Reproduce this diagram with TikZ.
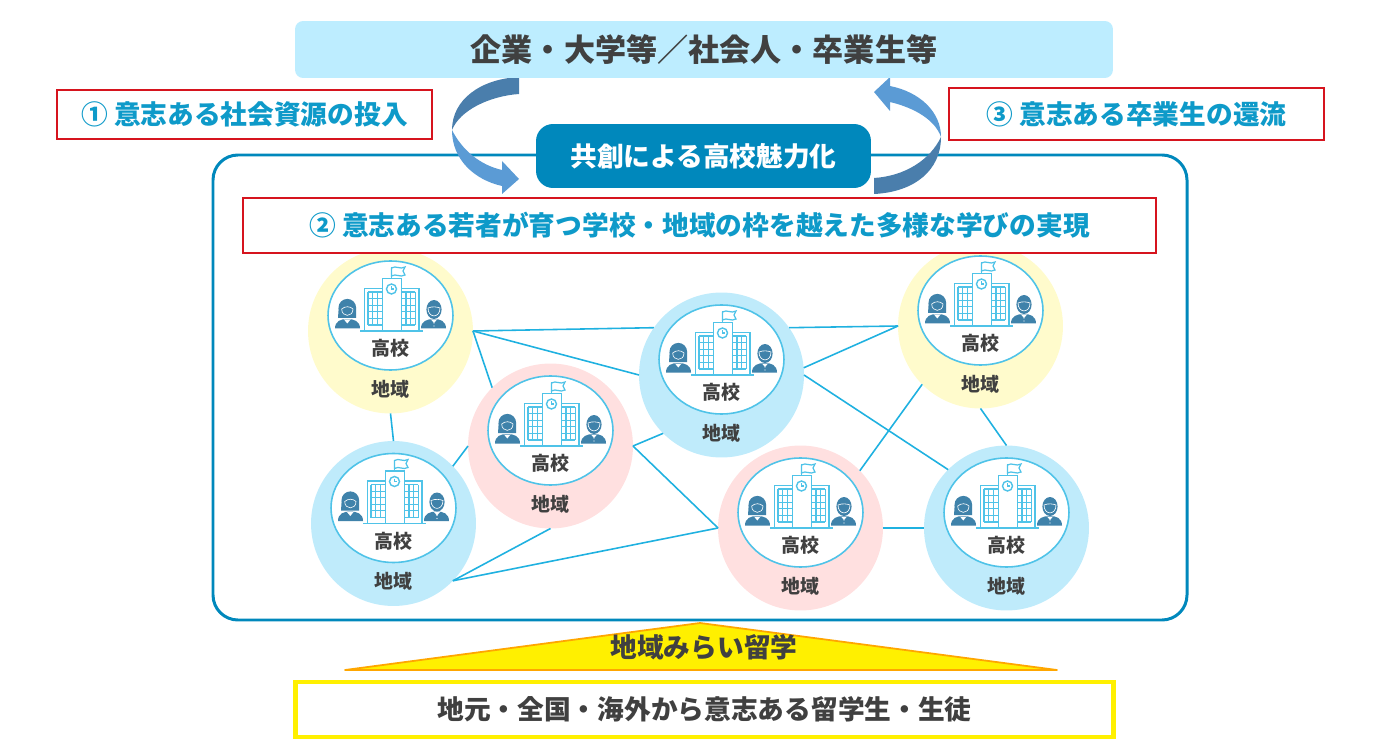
\documentclass[tikz,border=0pt]{standalone}
\usepackage{fontspec}
\setmainfont{Noto Sans CJK JP}
\usetikzlibrary{shapes.geometric}
\definecolor{mytext}{RGB}{64,64,64}
\definecolor{myteal}{RGB}{0,136,188}
\definecolor{mycyan}{RGB}{14,154,201}
\definecolor{myred}{RGB}{214,20,30}
\definecolor{mysky}{RGB}{189,237,255}
\definecolor{myline}{RGB}{31,177,224}
\definecolor{myicon}{RGB}{79,195,232}
\definecolor{myperson}{RGB}{63,130,170}
\definecolor{mydark}{RGB}{74,126,172}
\definecolor{mylight}{RGB}{91,155,213}
\definecolor{myyellow}{RGB}{255,251,204}
\definecolor{myblue}{RGB}{191,235,251}
\definecolor{mypink}{RGB}{255,224,224}
\definecolor{mygold}{RGB}{255,240,0}
\tikzset{
  redbox/.style={draw=myred,line width=1.1pt,fill=white,inner sep=0,outer sep=0,text=mycyan,font=\fontsize{15.2}{18}\selectfont\bfseries},
  arealabel/.style={text=mytext,font=\fontsize{10.8}{13}\selectfont\bfseries,inner sep=0},
  linkline/.style={draw=myline,line width=0.9pt},
  schoolicon/.pic={
    \draw[myicon,line width=0.8pt,fill=white] (-26.3,16) rectangle (-8.7,-26.7);
    \draw[myicon,line width=0.8pt,fill=white] (10.3,16) rectangle (28,-26.7);
    \draw[myicon,line width=0.8pt,fill=white] (-8.7,16) rectangle (10.3,-36.7);
    \foreach \wx in {-23,10.3}{
      \foreach \k in {0,1,2,3}{
        \draw[myicon,line width=0.6pt] (\wx+\k*4.7,-23) -- (\wx+\k*4.7,10);
      }
      \foreach \k in {0,...,5}{
        \draw[myicon,line width=0.6pt] (\wx,-23+\k*6.6) -- (\wx+14.1,-23+\k*6.6);
      }
    }
    \draw[myicon,line width=0.8pt] (0.5,-26) circle (5);
    \draw[myicon,line width=0.6pt] (0.5,-29) -- (0.5,-26) -- (3,-26);
    \draw[myicon,line width=0.9pt] (-31,16) -- (32,16);
    \draw[myicon,line width=0.8pt] (0.5,-36.7) -- (0.5,-48);
    \draw[myicon,line width=0.7pt,fill=white] (0.5,-47) .. controls (5,-50) and (9,-45) .. (14,-48) -- (12,-44) -- (14,-40) .. controls (9,-37) and (5,-42) .. (0.5,-39) -- cycle;
    % left figure
    \fill[myperson] (-56,13.5) .. controls (-56,6) and (-50,4) .. (-44,4) .. controls (-37,4) and (-31,6) .. (-31,13.5) -- cycle;
    \fill[myperson] (-43.7,-7.3) circle (8.8);
    \fill[myperson] (-52.3,-7) -- (-53,3) -- (-35,3) -- (-35,-7) -- cycle;
    \draw[white,line width=0.35pt] (-49.3,-6) .. controls (-49.3,2.5) and (-38,2.5) .. (-38,-6) .. controls (-41,-9) and (-46,-9) .. (-49.3,-6) -- cycle;
    \fill[white] (-47,4.5) -- (-43.7,8.5) -- (-40.5,4.5) -- cycle;
    % right figure
    \fill[myperson] (30,13.5) .. controls (30,6) and (36,4) .. (43,4) .. controls (49,4) and (55,6) .. (55,13.5) -- cycle;
    \fill[myperson] (43,-5.5) ellipse (7.6 and 9.5);
    \draw[white,line width=0.35pt] (37,-7) .. controls (37,3.5) and (49,3.5) .. (49,-7) .. controls (46,-8) and (42,-9) .. (37,-7) -- cycle;
    \fill[white] (40,4.5) -- (43,8) -- (46,4.5) -- cycle;
    \foreach \by in {8,11}{
      \fill[white] (43,\by) circle (0.6);
    }
  },
}
\begin{document}
\begin{tikzpicture}[x=0.02cm,y=-0.02cm]
\useasboundingbox (0,0) rectangle (1390,753);

\draw[myteal,line width=1.7pt,rounded corners=0.5cm] (213,155) rectangle (1187,620);

% curved arrows
\fill[mydark] (519,77) .. controls (480,79) and (452,100) .. (452,130) .. controls (460,110) and (490,96) .. (519,94) -- cycle;
\fill[mylight] (452,130) .. controls (452,160) and (475,180) .. (502,186) -- (502,194) -- (519,179) -- (502,161) -- (502,170) .. controls (480,165) and (462,150) .. (452,130) -- cycle;
\fill[mydark] (874,194) .. controls (915,192) and (941,170) .. (941,137) .. controls (930,160) and (905,176) .. (874,178) -- cycle;
\fill[mylight] (890,86) .. controls (920,92) and (941,112) .. (941,137) .. controls (935,120) and (915,108) .. (890,102) -- (890,111) -- (874,92) -- (890,77) -- cycle;

\node[fill=mysky,rounded corners=0.16cm,minimum width=16.36cm,minimum height=1.14cm,inner sep=0,text=mytext,font=\fontsize{17.7}{20}\selectfont\bfseries] (partners) at (704,49.5) {企業・大学等／社会人・卒業生等};
\node[fill=myteal,rounded corners=0.34cm,minimum width=6.7cm,minimum height=1.28cm,inner sep=0,text=white,font=\fontsize{15.2}{18}\selectfont\bfseries] (cocreate) at (703.5,156) {共創による高校魅力化};
\node[redbox,minimum width=7.5cm,minimum height=0.98cm] (input) at (244.5,114.5) {① 意志ある社会資源の投入};
\node[redbox,minimum width=7.5cm,minimum height=1.04cm] (return) at (1136.5,114) {③ 意志ある卒業生の還流};

\foreach \nm/\cx/\cy/\col in {a/390.5/331/myyellow,b/393.5/523.5/myblue,c/550.5/446/mypink,d/721.5/375/myblue,e/980.5/326/myyellow,f/800.5/528/mypink,g/1006.5/528/myblue}{
  \begin{scope}[shift={(\cx,\cy)}]
    \node[circle,fill=\col,minimum size=3.3cm,inner sep=0,outer sep=0] (\nm) at (0,0) {};
    \node[ellipse,draw=myicon,line width=0.9pt,fill=white,minimum width=2.5cm,minimum height=2.18cm,inner sep=0] (\nm-inner) at (0,-15.5) {};
    \pic at (0.5,-16) {schoolicon};
    \node[arealabel] (\nm-school) at (0,17.5) {高校};
    \node[arealabel] (\nm-area) at (0,58) {地域};
  \end{scope}
}

\node[redbox,minimum width=18.26cm,minimum height=1.1cm] (learning) at (699.5,225.5) {② 意志ある若者が育つ学校・地域の枠を越えた多様な学びの実現};

\draw[linkline] (a.0) -- (d.145);
\draw[linkline] (a.0) -- (d.180);
\draw[linkline] (a.0) -- (c.135);
\draw[linkline] (a.-90) -- (b.90);
\draw[linkline] (b.44) -- (c.180);
\draw[linkline] (b.-44) -- (c.-90);
\draw[linkline] (b.-44) -- (f.180);
\draw[linkline] (c.0) -- (f.180);
\draw[linkline] (c.0) -- (d.-135);
\draw[linkline] (d.35) -- (e.180);
\draw[linkline] (d.5) -- (e.180);
\draw[linkline] (d.0) -- (g.135);
\draw[linkline] (e.-135) -- (f.44);
\draw[linkline] (e.-90) -- (g.90);
\draw[linkline] (f.0) -- (g.180);

\draw[draw=orange!70!yellow,fill=mygold,line width=1pt,line join=round] (345,670) -- (700,623) -- (1057,670) -- cycle;
\node[text=mytext,font=\fontsize{15.2}{18}\selectfont\bfseries,inner sep=0] (program) at (704,647.5) {地域みらい留学};
\node[draw=mygold,line width=2.8pt,fill=white,minimum width=16.36cm,minimum height=1.1cm,inner sep=0,text=mytext,font=\fontsize{15.2}{18}\selectfont\bfseries] (students) at (704.5,709.5) {地元・全国・海外から意志ある留学生・生徒};
\end{tikzpicture}
\end{document}
